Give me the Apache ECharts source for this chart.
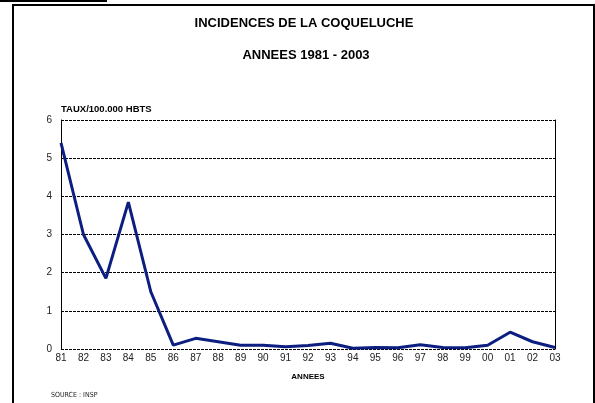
<!DOCTYPE html>
<html>
<head>
<meta charset="utf-8">
<script src="https://cdn.jsdelivr.net/npm/echarts@6/dist/echarts.min.js"></script>
<style>
  html, body { margin: 0; padding: 0; background: #fff; }
  #chart { width: 595px; height: 403px; }
</style>
</head>
<body>
<div id="chart"></div>
<script>
// années 1981 - 2003
const years = ['81', '82', '83', '84', '85', '86', '87', '88', '89', '90', '91', '92',
  '93', '94', '95', '96', '97', '98', '99', '00', '01', '02', '03']
// taux pour 100.000 habitants
const rates = [5.4, 3.0, 1.85, 3.85, 1.5, 0.1, 0.28, 0.19, 0.1, 0.1, 0.06, 0.09,
  0.15, 0.02, 0.04, 0.03, 0.11, 0.04, 0.03, 0.1, 0.44, 0.19, 0.04]

const chart = echarts.init(document.getElementById('chart'))
const font = 'Liberation Sans, Arial, sans-serif'

chart.setOption({
  animation: false,
  title: [
    {
      text: 'INCIDENCES DE LA COQUELUCHE',
      left: 299, top: 12, textAlign: 'center',
      textStyle: { fontFamily: font, fontSize: 13, fontWeight: 'bold', color: '#000' }
    },
    {
      text: 'ANNEES 1981 - 2003',
      left: 301, top: 44, textAlign: 'center',
      textStyle: { fontFamily: font, fontSize: 13, fontWeight: 'bold', color: '#000' }
    },
    {
      text: 'SOURCE : INSP',
      left: 46, top: 387,
      textStyle: { fontFamily: 'DejaVu Sans Condensed, Liberation Sans Narrow, sans-serif', fontSize: 7, fontWeight: 'normal', color: '#222' }
    }
  ],
  grid: { left: 61, right: 40, top: 120, bottom: 54 },
  xAxis: {
    type: 'category',
    data: years,
    boundaryGap: false,
    name: 'ANNEES',
    nameLocation: 'middle',
    nameGap: 24,
    nameTextStyle: { fontFamily: font, fontSize: 8, fontWeight: 'bold', color: '#000' },
    axisLine: { show: false },
    axisTick: { show: false },
    axisLabel: { fontFamily: font, fontSize: 10, color: '#222', margin: 4, interval: 0 }
  },
  yAxis: [
    {
      type: 'value',
      min: 0, max: 6, interval: 1,
      name: 'TAUX/100.000 HBTS',
      nameLocation: 'end',
      nameGap: 6,
      nameTextStyle: { fontFamily: font, fontSize: 9.5, fontWeight: 'bold', color: '#000', align: 'left' },
      axisLine: { show: true, lineStyle: { color: '#000', width: 1 } },
      axisTick: { show: false },
      axisLabel: { fontFamily: font, fontSize: 10, color: '#222', margin: 9 },
      splitLine: { show: true, lineStyle: { color: '#000', type: [3, 1], width: 1 } }
    },
    {
      type: 'value',
      position: 'right',
      min: 0, max: 6, interval: 1,
      axisLine: { show: true, lineStyle: { color: '#000', width: 1 } },
      axisTick: { show: false },
      axisLabel: { show: false },
      splitLine: { show: false }
    }
  ],
  series: [
    {
      type: 'line',
      data: rates,
      symbol: 'none',
      lineStyle: { color: '#0c1f80', width: 3 }
    }
  ],
  graphic: [
    { type: 'rect', shape: { x: 0, y: 0, width: 107, height: 2 }, style: { fill: '#000' } },
    { type: 'rect', shape: { x: 12, y: 4, width: 2, height: 420 }, style: { fill: '#000' } },
    { type: 'rect', shape: { x: 12, y: 4, width: 583, height: 2 }, style: { fill: '#000' } },
    { type: 'rect', shape: { x: 593, y: 4, width: 2, height: 420 }, style: { fill: '#000' } }
  ]
})
</script>
</body>
</html>
